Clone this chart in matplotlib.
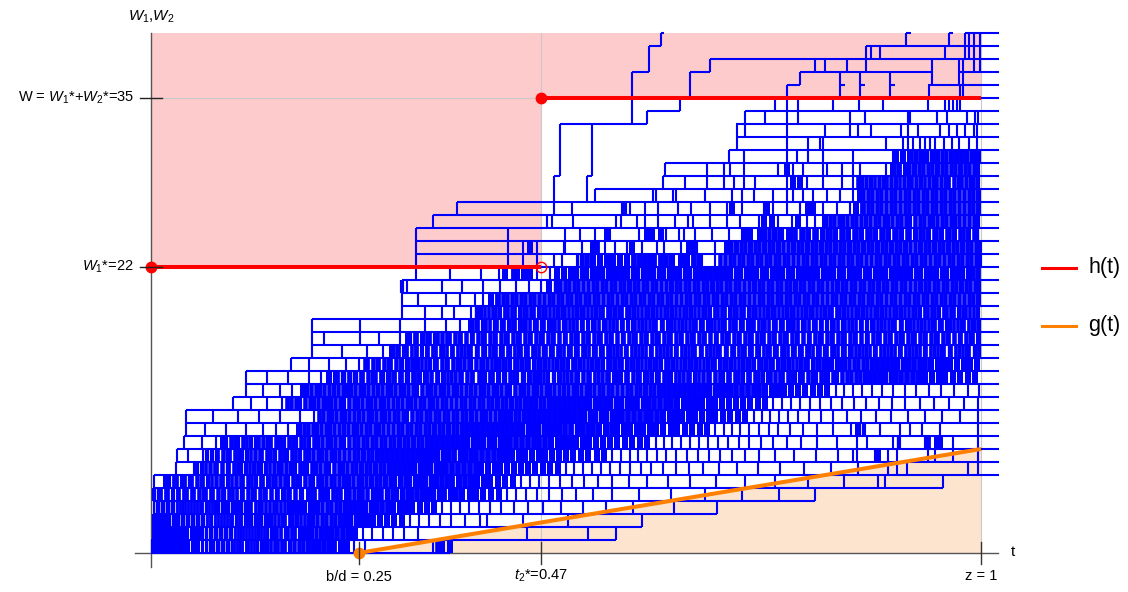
import matplotlib
matplotlib.use("Agg")
import matplotlib.pyplot as plt
from matplotlib.collections import LineCollection
from matplotlib.patches import Polygon
from matplotlib.lines import Line2D

plt.rcParams['font.family'] = ['Liberation Sans', 'DejaVu Sans']
plt.rcParams['mathtext.fontset'] = 'custom'
plt.rcParams['mathtext.rm'] = 'Liberation Sans'
plt.rcParams['mathtext.it'] = 'Liberation Sans:italic'

# ---------------- data ----------------
W1_star = 22          # h(t) level before t2*
W_total = 35          # h(t) level after t2*
W_max = 40            # top of the plotted range
t2_star = 0.47
b_over_d = 0.25
z_end = 1.0
g_at_z = 8            # g(1)
t_last = 1.022        # paths are drawn until this time

x_tick_values = [0.25, 0.47, 1.0]
x_tick_labels = ["b/d = 0.25", r"$t_2$*=0.47", "z = 1"]
y_tick_values = [22, 35]
y_tick_labels = [r"$W_1$*=22", r"W = $W_1$*+$W_2$*=35"]

# horizontal pieces of the sample paths at each level k (t in thousandths)
level_spans = [
    "0-360", "0-560", "2-591", "3-682", "4-800", "4-954", "4-1022", "30-1022",
    "31-1022", "40-1022", "42-1022", "42-1022", "99-1022", "114-1022", "114-1022",
    "169-1022", "194-1022", "194-1022", "194-1022", "303-1022", "303-1022",
    "303-1022", "319-1022", "319-1022", "319-1022", "319-1022", "340-1022",
    "369-1022", "535-1022", "485-493 525-531 617-1022", "619-1022", "696-1022",
    "706-1022", "493-597 705-1022", "597-637 716-1022", "637-1022",
    "766-782 830-836 854-860 890-896 936-1022",
    "579-600 649-674 782-941 973-1022", "674-1022", "600-614 862-1022",
    "614-618 910-916 962-966 981-1022",
]

# jump times from level k to k+1 (t in thousandths)
level_jumps = [
    # k = 0
    "001 002 004 005 007 009 010 012 014 016 017 019 021 023 025 027 029 031 033 035 037 040 042 044 046 049 051 053 056 058 061 063 066 068 071 074 076 079 082 085 088 091 094 097 100 104 107 110 114 117 121 124 128 132 136 140 144 149 153 158 162 167 172 178 183 189 195 201 208 215 221 229 236 245 258 340 345 351 360",
    # k = 1
    "002 003 004 006 008 009 011 013 015 017 019 021 023 025 027 029 031 034 036 038 041 043 045 048 050 053 055 058 060 063 066 068 071 074 077 080 083 086 089 092 095 098 101 105 108 111 115 118 122 125 129 133 136 140 144 148 152 157 161 165 170 174 179 184 189 194 199 205 211 217 224 231 238 246 255 266 279 292 305 322 453 527 560",
    # k = 2
    "002 004 006 008 011 013 016 018 021 023 026 029 031 034 037 040 043 046 049 052 055 058 061 064 067 071 074 077 081 084 088 091 095 098 102 106 109 113 117 121 125 129 133 137 141 145 149 154 158 162 167 171 176 181 185 190 195 200 206 211 217 222 228 234 240 247 253 260 268 276 284 293 302 312 323 335 348 362 378 396 405 448 502 591",
    # k = 3
    "003 004 007 010 013 016 019 022 025 028 031 035 038 041 045 048 052 055 059 062 066 070 073 077 081 085 089 093 097 101 105 109 113 117 121 126 130 134 139 143 148 152 157 161 166 171 176 181 186 191 196 201 206 212 217 223 228 234 240 246 252 258 265 271 278 285 292 300 307 315 324 332 341 351 361 372 383 395 408 422 437 454 472 494 520 548 581 630 682",
    # k = 4
    "004 009 012 018 021 027 031 034 040 043 049 052 058 063 066 072 075 081 086 088 094 099 103 108 111 117 122 125 131 136 139 145 150 153 159 165 168 174 179 182 189 194 198 203 209 213 219 224 228 235 240 244 251 256 260 267 273 277 284 290 295 302 308 313 320 327 332 340 347 353 361 368 375 384 392 400 410 419 429 440 452 465 479 495 512 533 556 588 627 668 712 757 800",
    # k = 5
    "004 018 022 028 031 037 041 046 049 055 060 063 069 073 078 084 087 093 097 102 108 111 117 122 126 132 135 141 147 150 156 161 165 171 176 180 186 191 195 201 206 211 217 222 226 233 238 243 249 254 259 265 271 276 282 288 293 300 306 311 318 324 330 337 343 350 357 363 371 378 385 393 401 409 418 427 436 446 457 468 480 493 507 522 538 556 576 598 623 650 681 716 752 792 835 876 884 954",
    # k = 6
    "030 052 056 062 066 071 077 080 086 091 094 100 105 109 115 119 124 129 133 139 143 148 154 158 163 169 173 179 184 188 194 199 204 210 215 220 226 231 236 242 247 253 259 264 270 276 281 287 293 299 305 311 317 324 330 336 343 349 356 363 370 377 384 391 398 406 414 421 429 437 446 454 463 472 481 490 500 510 520 531 542 553 565 577 590 603 617 632 648 665 684 706 731 758 787 819 852 888 899 911 984 996",
    # k = 7
    "031 045 063 068 073 078 081 087 092 095 101 106 110 116 120 125 131 134 140 145 149 155 160 164 170 175 179 185 190 195 201 206 211 217 222 227 233 238 244 249 255 261 266 272 278 284 290 296 302 308 314 320 326 333 339 345 352 358 365 372 378 385 392 399 406 413 420 428 435 443 451 459 467 475 483 492 500 509 518 527 537 546 556 566 577 587 598 610 621 633 646 659 672 686 700 716 733 752 775 801 828 846 851 872 876 888 899 936 945 966 996",
    # k = 8
    "040 062 078 086 090 096 101 105 111 116 120 126 130 135 141 145 150 156 160 166 171 175 181 186 190 196 201 206 212 217 222 228 233 238 244 249 255 260 266 271 277 282 288 293 299 305 310 316 322 327 333 339 345 351 357 363 369 375 381 388 394 400 407 413 420 426 433 440 447 454 461 468 475 482 490 497 505 512 520 528 536 545 553 562 571 580 589 598 608 618 628 638 649 660 671 683 695 708 721 735 750 766 783 803 826 851 863 894 900 902 933 936 947 951 966 996",
    # k = 9
    "042 065 090 115 135 150 165 178 184 189 195 200 205 211 216 221 227 232 237 243 248 253 259 264 270 275 280 286 291 297 302 308 313 319 324 330 335 341 347 352 358 364 369 375 381 387 393 399 405 411 417 423 429 435 441 447 454 460 466 473 479 486 492 499 506 513 519 526 533 540 548 555 562 570 577 585 593 601 609 617 626 634 643 652 661 670 680 690 700 710 721 732 744 756 770 786 803 822 843 852 858 860 878 902 914 929 951 996",
    # k = 10
    "042 075 105 130 155 180 196 202 207 213 218 223 229 234 239 245 250 255 261 266 271 277 282 287 293 298 304 309 314 320 325 331 336 342 347 353 358 364 369 375 380 386 392 397 403 409 414 420 426 432 438 443 449 455 461 467 473 479 485 491 497 504 510 516 522 529 535 542 548 555 561 568 575 582 589 596 603 610 617 625 632 640 648 656 664 672 680 689 698 707 716 726 736 746 757 768 780 793 807 822 838 855 873 892 912 932 953 975 996",
    # k = 11
    "099 120 140 158 164 169 175 180 185 191 196 201 207 212 217 222 228 233 238 244 249 254 260 265 270 276 281 286 292 297 302 308 313 318 324 329 335 340 345 351 356 362 367 373 378 384 389 395 400 406 411 417 423 428 434 440 445 451 457 463 469 474 480 486 492 498 504 510 516 522 528 535 541 547 553 560 566 573 579 586 593 599 606 613 620 627 634 642 649 657 664 672 680 688 696 705 713 722 731 740 750 760 771 782 794 806 819 833 847 862 877 893 909 926 943 961 979 996",
    # k = 12
    "114 135 155 170 183 188 193 199 204 209 215 220 225 231 236 241 246 252 257 262 268 273 278 284 289 294 300 305 310 316 321 326 332 337 342 348 353 358 364 369 374 380 385 390 396 401 406 412 417 422 428 433 438 444 449 454 460 465 470 476 481 486 492 497 502 508 513 518 524 529 534 540 545 551 556 562 567 573 578 584 589 595 601 606 612 618 624 630 636 642 648 654 660 666 672 679 685 692 698 705 712 719 726 733 740 748 755 763 771 779 788 797 806 815 825 835 846 857 869 881 894 908 922 937 952 968 984 998",
    # k = 13
    "114 140 165 190 205 215 222 225 231 238 240 246 253 255 262 266 270 277 279 285 291 294 300 303 309 316 318 323 330 333 337 344 346 352 358 361 366 372 375 381 386 388 395 399 403 409 412 418 424 426 432 437 441 447 449 455 461 464 469 474 478 484 486 492 498 501 506 512 515 520 526 529 535 538 543 549 552 558 562 566 572 575 581 586 589 595 599 604 609 612 618 623 627 633 636 641 647 650 656 660 665 671 674 680 685 689 695 698 704 709 713 719 722 728 733 737 743 747 752 758 761 767 772 776 782 786 791 797 801 807 812 816 822 827 832 838 843 849 854 860 866 872 878 884 891 897 904 911 918 925 933 941 949 957 966 975 984 993",
    # k = 14
    "169 190 215 235 250 258 261 267 272 275 281 286 289 295 300 302 308 314 317 322 327 331 336 341 344 350 355 358 364 369 372 377 383 386 391 397 400 405 411 414 419 424 428 433 438 442 447 452 456 461 466 470 475 480 484 489 494 498 503 508 512 517 522 526 531 536 540 545 550 554 559 564 568 573 578 582 587 592 596 601 606 610 615 620 624 629 634 638 643 648 652 657 662 666 671 676 680 685 690 694 699 704 708 713 718 722 727 732 736 741 746 750 755 760 764 769 774 778 783 788 792 797 802 806 811 816 821 826 831 836 841 847 852 858 863 869 875 881 887 893 899 906 912 919 926 933 940 948 955 963 971 979 987 995",
    # k = 15
    "194 230 260 280 290 296 299 305 309 314 318 321 327 331 334 340 343 349 352 357 361 364 370 373 378 382 386 391 394 400 403 408 412 416 421 424 430 433 438 442 446 451 454 460 463 468 472 476 481 484 490 493 498 502 506 511 514 520 523 528 532 536 541 544 550 553 558 562 566 571 574 580 583 588 592 596 601 604 610 613 618 622 626 631 634 640 643 648 652 656 661 664 670 673 678 682 686 691 694 700 703 708 712 716 721 724 730 733 738 742 746 751 754 760 763 768 772 776 781 784 790 793 798 802 806 811 814 820 823 828 832 836 841 844 850 853 858 862 866 871 874 880 883 888 892 896 901 904 910 913 918 922 926 931 934 940 943 948 952 956 961 964 970 973 978 982 986 991 994 998",
    # k = 16
    "194 209 252 275 300 308 312 318 321 327 333 336 342 346 351 357 360 366 371 374 380 385 388 394 399 402 408 413 416 422 427 430 436 441 444 450 455 458 464 469 472 478 483 486 492 497 500 506 511 514 520 525 528 534 539 542 548 553 556 562 567 570 576 581 584 590 595 598 604 609 612 618 623 626 632 637 640 646 651 654 660 665 668 674 679 682 688 693 696 702 707 710 716 721 724 730 735 738 744 749 752 758 763 766 772 777 780 786 791 794 800 805 808 814 819 822 828 833 836 842 847 850 856 861 864 870 875 878 884 889 892 898 903 906 912 917 920 926 931 934 940 945 948 954 959 962 968 973 976 982 987 990 996",
    # k = 17
    "194 252 300 330 355 372 385 391 394 400 404 409 413 417 422 425 431 435 438 444 448 452 457 461 465 470 473 479 483 487 492 496 500 505 509 513 518 521 527 531 535 540 544 548 553 557 561 566 569 575 579 583 588 592 596 601 605 609 614 617 623 627 631 636 640 644 649 653 657 662 665 671 675 679 684 688 692 697 701 705 710 713 719 723 727 732 736 740 745 749 753 758 761 767 771 775 780 784 788 793 797 801 806 809 815 819 823 828 832 836 841 845 849 854 857 863 867 871 876 880 884 889 893 897 902 905 911 915 919 924 928 932 937 941 945 950 953 959 963 967 972 976 980 985 989 993 998",
    # k = 18
    "303 330 350 365 385 393 398 403 407 412 416 421 426 430 435 439 444 449 453 458 462 467 472 476 481 485 490 495 499 504 508 513 518 522 527 531 536 541 545 550 554 559 564 568 573 577 582 587 591 596 600 605 610 614 619 623 628 633 637 642 646 651 656 660 665 669 674 679 683 688 692 697 702 706 711 715 720 725 729 734 738 743 748 752 757 761 766 771 775 780 784 789 794 798 803 807 812 817 821 826 830 835 840 844 849 853 858 863 867 872 876 881 886 890 895 899 904 909 913 918 922 927 932 936 941 945 950 955 959 964 968 973 978 982 987 991 996",
    # k = 19
    "303 322 355 372 390 400 410 418 424 429 435 440 446 451 457 462 468 473 479 484 490 495 501 506 512 517 523 528 534 539 545 550 556 561 567 572 578 583 589 594 600 605 611 616 622 627 633 638 644 649 655 660 666 671 677 682 688 693 699 704 710 715 721 726 732 737 743 748 754 759 765 770 776 781 787 792 798 803 809 814 820 825 831 836 842 847 853 858 864 869 875 880 886 891 897 902 908 913 919 924 930 935 941 946 952 957 963 968 974 979 985 990 996",
    # k = 20
    "303 308 350 375 400 420 440 455 470 480 488 493 499 504 510 515 521 526 532 537 543 548 554 559 565 570 576 582 587 593 598 604 609 615 620 626 632 637 643 648 654 659 665 670 676 682 687 693 698 704 709 715 720 726 732 737 743 748 754 759 765 770 776 782 787 793 798 804 809 815 820 826 832 837 843 848 854 859 865 870 876 882 887 893 898 904 909 915 920 926 932 937 943 948 954 959 965 970 976 982 987 993 998",
    # k = 21
    "319 360 398 419 427 437 441 449 457 465 481 489 497 506 512 519 524 531 537 543 550 555 562 568 574 581 586 593 599 605 612 617 624 630 636 643 648 655 661 667 674 679 686 692 698 705 710 717 723 729 736 741 748 754 760 767 772 779 785 791 798 803 810 816 822 829 834 841 847 853 860 865 872 878 884 891 896 903 909 915 922 927 934 940 946 953 958 965 971 977 984 989 996",
    # k = 22
    "319 430 448 465 486 495 513 515 519 525 533 541 549 557 565 574 582 588 594 600 606 614 620 628 638 646 654 660 664 680 686 691 697 702 708 713 719 724 730 735 741 746 752 757 763 768 774 779 785 790 796 801 807 812 818 823 829 834 840 845 851 856 862 867 873 878 884 889 895 900 906 911 917 922 928 933 939 944 950 955 961 966 972 977 983 988 994 999",
    # k = 23
    "319 430 448 457 465 497 499 519 533 537 547 559 574 580 592 610 618 638 648 654 658 680 694 699 705 711 716 722 728 733 739 745 750 756 762 767 773 779 784 790 796 801 807 813 818 824 830 835 841 847 852 858 864 869 875 881 886 892 898 903 909 915 920 926 932 937 943 949 954 960 966 971 977 983 988 994 999",
    # k = 24
    "319 430 499 517 535 549 553 588 598 604 614 620 636 642 656 676 696 712 716 722 734 740 744 751 757 760 767 772 776 783 787 792 799 803 808 815 819 824 831 835 840 847 851 856 863 867 872 879 883 888 895 899 904 911 915 920 927 931 936 943 947 952 959 963 968 975 979 984 991 995",
    # k = 25
    "340 477 483 509 560 566 586 595 611 631 647 653 673 694 710 732 738 748 756 772 780 790 800 812 818 823 829 834 839 845 850 856 861 866 872 877 883 888 893 899 904 910 915 920 926 931 937 942 947 953 958 964 969 974 980 985 991 996",
    # k = 26
    "369 486 507 567 571 577 595 611 635 651 673 694 700 712 738 742 750 766 782 792 798 810 826 842 850 858 864 869 875 880 886 891 897 902 908 913 919 924 930 935 941 946 952 957 963 968 974 979 985 990 996",
    # k = 27
    "485 525 535 605 609 629 633 667 700 712 726 750 766 774 786 798 814 830 846 853 858 864 869 875 880 886 891 897 902 908 913 919 924 930 935 941 946 952 957 963 968 974 979 985 990 996",
    # k = 28
    "485 525 617 643 670 690 702 714 728 766 774 782 790 810 832 846 852 857 862 868 872 877 883 887 892 898 902 907 913 917 922 928 932 937 943 947 952 958 962 967 973 977 982 988 992 997",
    # k = 29
    "493 531 619 670 690 698 714 756 766 774 786 810 814 832 846 854 886 894 901 908 913 919 925 930 936 941 947 953 958 964 969 975 981 986 992 997",
    # k = 30
    "493 531 696 714 766 778 792 810 846 894 898 906 914 922 928 934 941 947 953 958 964 970 976 982 988 993 998",
    # k = 31
    "493 531 706 766 792 806 810 886 906 912 918 927 933 939 945 955 965 973 985 995",
    # k = 32
    "493 531 706 716 766 812 842 852 868 904 912 924 951 961 971 981 991 995",
    # k = 33
    "579 597 716 740 766 780 842 860 912 914 947 959 983 993 997",
    # k = 34
    "579 637 752 766 780 822 853 882 936 957 961 966 971 975",
    # k = 35
    "579 649 766 830 854 890 937 975 978",
    # k = 36
    "579 649 782 830 854 890 941 973 978",
    # k = 37
    "600 674 800 812 838 862 941 973 978 991 999",
    # k = 38
    "600 862 868 878 957 981 985 991 999",
    # k = 39
    "614 910 962 981 985 991 999",
]

# ---------------- figure ----------------
W, H = 1128, 592
fig = plt.figure(figsize=(W / 100, H / 100), dpi=100)
x_left_px, x_right_px, y_top_px, y_bot_px = 135, 998, 33, 567
ax = fig.add_axes([x_left_px / W, 1 - y_bot_px / H,
                   (x_right_px - x_left_px) / W, (y_bot_px - y_top_px) / H])
xlim = (-0.0193, 1.0205)
ax.set_xlim(*xlim)
ax.set_ylim(-1.077, W_max)
ax.axis('off')
px_per_t = (x_right_px - x_left_px) / (xlim[1] - xlim[0])

# shaded regions
pink = Polygon([(0, W1_star), (t2_star, W1_star), (t2_star, W_total),
                (z_end, W_total), (z_end, W_max), (0, W_max)],
               closed=True, facecolor='#fdcbcb', edgecolor='none', zorder=0)
peach = Polygon([(b_over_d, 0), (z_end, g_at_z), (z_end, 0)],
                closed=True, facecolor='#fde4cf', edgecolor='none', zorder=0)
ax.add_patch(pink)
ax.add_patch(peach)

# light grid lines
grid_kw = dict(color='#c9c9c9', lw=0.8, zorder=0.5)
ax.plot([0, z_end], [W_total, W_total], **grid_kw)
ax.plot([0, z_end], [W1_star, W1_star], **grid_kw)
ax.plot([t2_star, t2_star], [0, W_max], **grid_kw)
ax.plot([z_end, z_end], [0, W_max], **grid_kw)

# sample paths
hsegs = []
for k, spans in enumerate(level_spans):
    for piece in spans.split():
        a, b = piece.split('-')
        hsegs.append([(int(a) / 1000, k), (min(int(b) / 1000, t_last), k)])

# vertical jumps; inside the dense mesh many overlapping strokes merge,
# so a jump's stroke grows with how tightly its neighbours crowd it
vsegs, vwidths = [], []
for k, jumps in enumerate(level_jumps):
    ts = sorted(int(v) / 1000 for v in jumps.split())
    for i, t in enumerate(ts):
        gaps = []
        if i > 0:
            gaps.append(t - ts[i - 1])
        if i < len(ts) - 1:
            gaps.append(ts[i + 1] - t)
        mean_gap_px = (sum(gaps) / len(gaps) if gaps else 1.0) * px_per_t
        if k <= 30 and mean_gap_px <= 8.0:
            w_px = min(max(1.0 * mean_gap_px, 2.1), 6.0)
        else:
            w_px = 2.1
        vsegs.append([(t, k), (t, k + 1)])
        vwidths.append(w_px * 0.72)

ax.add_collection(LineCollection(hsegs, colors='#0000ff', linewidths=1.5,
                                 zorder=2, capstyle='butt', clip_on=False))
ax.add_collection(LineCollection(vsegs, colors='#0000ff', linewidths=vwidths,
                                 zorder=2, capstyle='butt', clip_on=False))

# h(t)
red = '#ff0000'
ax.plot([0, t2_star], [W1_star, W1_star], color=red, lw=2.9, zorder=3,
        solid_capstyle='butt')
ax.plot([t2_star, z_end], [W_total, W_total], color=red, lw=2.9, zorder=3,
        solid_capstyle='butt')
ax.plot([0, t2_star], [W1_star, W_total], 'o', color=red, ms=7.5, zorder=4,
        clip_on=False)
ax.plot([t2_star], [W1_star], 'o', mfc='none', mec=red, mew=1.0, ms=7.5,
        zorder=4)

# g(t)
orange = '#ff8000'
ax.plot([b_over_d, z_end], [0, g_at_z], color=orange, lw=2.9, zorder=3,
        solid_capstyle='butt')
ax.plot([b_over_d], [0], 'o', color=orange, ms=7.5, zorder=4, clip_on=False)

# axes lines
axis_c = '#555555'
ax.plot([xlim[0], xlim[1]], [0, 0], color=axis_c, lw=1.0, zorder=1.5,
        clip_on=False)
ax.plot([0, 0], [-1.077, W_max], color=axis_c, lw=1.0, zorder=1.5,
        clip_on=False)

# ticks
for xv in x_tick_values:
    ax.plot([xv, xv], [-0.85, 0.85], color='#333333', lw=1.0, zorder=5,
            clip_on=False)
for yv in y_tick_values:
    ax.plot([-0.0133, 0.0133], [yv, yv], color='#222222', lw=1.0, zorder=5,
            clip_on=False)

fs = 10.5
for xv, lab, yy in zip(x_tick_values, x_tick_labels, [-1.85, -1.72, -1.78]):
    ax.text(xv, yy, lab, ha='center', va='center', fontsize=fs)
for yv, lab in zip(y_tick_values, y_tick_labels):
    ax.text(-0.0205, yv, lab, ha='right', va='center', fontsize=fs)

ax.text(0.001, 41.25, r"$W_1$,$W_2$", ha='center', va='center', fontsize=11)
ax.text(1.0386, 0.1, "t", ha='center', va='center', fontsize=11)

# legend
for ypx, col, lab in [(268, red, "h(t)"), (326, orange, "g(t)")]:
    yf = 1 - ypx / H
    fig.add_artist(Line2D([1042 / W, 1076 / W], [yf, yf], color=col, lw=2.2))
    fig.text(1088 / W, yf, lab, ha='left', va='center', fontsize=15.5)

fig.savefig("out.png", dpi=100)
